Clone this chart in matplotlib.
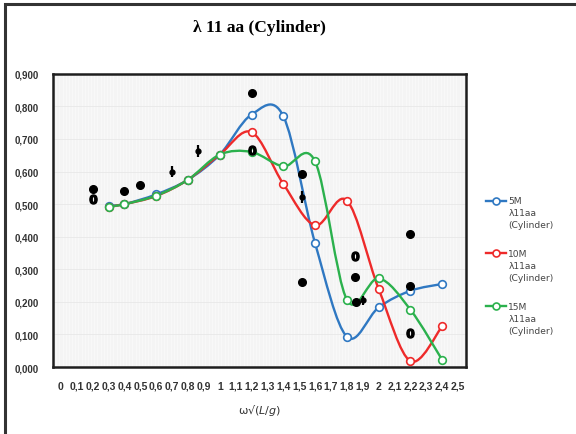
import numpy as np
import matplotlib
matplotlib.use("Agg")
import matplotlib.pyplot as plt
import matplotlib.transforms as mtransforms
from matplotlib.path import Path
from matplotlib.patches import PathPatch, Rectangle
from matplotlib.lines import Line2D
from matplotlib.legend_handler import HandlerLine2D
from matplotlib.ticker import FuncFormatter


# Courbes numeriques (5M, 10M, 15M)
omega = [0.3, 0.4, 0.6, 0.8, 1.0, 1.2, 1.4, 1.6, 1.8, 2.0, 2.2, 2.4]
l_5m = [0.495, 0.500, 0.530, 0.575, 0.652, 0.775, 0.770, 0.380, 0.093, 0.183, 0.234, 0.255]
l_10m = [0.492, 0.500, 0.525, 0.575, 0.652, 0.721, 0.562, 0.435, 0.511, 0.240, 0.018, 0.125]
l_15m = [0.492, 0.500, 0.526, 0.575, 0.652, 0.660, 0.616, 0.631, 0.207, 0.272, 0.176, 0.022]

# Mesures experimentales
pts_x = [0.2, 0.4, 0.5, 1.2, 1.52, 1.52, 1.85, 2.2, 2.2, 1.86]
pts_y = [0.545, 0.541, 0.559, 0.842, 0.591, 0.260, 0.275, 0.408, 0.250, 0.200]
zero_x = [0.2, 1.2, 1.85, 2.2]
zero_y = [0.516, 0.667, 0.340, 0.104]
err_x = [0.7, 0.86, 1.52, 1.9]
err_y = [0.600, 0.664, 0.521, 0.205]
err_dy = [0.018, 0.018, 0.018, 0.014]

x_ticks = [round(i * 0.1, 1) for i in range(26)]
y_ticks = [round(i * 0.1, 1) for i in range(10)]

series = [
    ("5M\nλ11aa\n(Cylinder)", l_5m, "#2f78c2"),
    ("10M\nλ11aa\n(Cylinder)", l_10m, "#ee2a2a"),
    ("15M\nλ11aa\n(Cylinder)", l_15m, "#2bb14d"),
]


# Courbe lissee facon tableur (Bezier / Catmull-Rom)
def courbe_lisse(ax, x, y, couleur):
    p = np.column_stack([x, y])
    verts = [p[0]]
    codes = [Path.MOVETO]
    n = len(p)
    for i in range(n - 1):
        p0 = p[i - 1] if i > 0 else p[i]
        p1 = p[i]
        p2 = p[i + 1]
        p3 = p[i + 2] if i + 2 < n else p[i + 1]
        c1 = p1 + (p2 - p0) / 6
        c2 = p2 - (p3 - p1) / 6
        verts += [c1, c2, p2]
        codes += [Path.CURVE4] * 3
    ax.add_patch(PathPatch(Path(verts, codes), fill=False, edgecolor=couleur,
                           lw=1.7, zorder=3))


# symbole de legende aligne sur la premiere ligne du texte
class LigneHaut(HandlerLine2D):
    def create_artists(self, legend, orig_handle, xdescent, ydescent,
                       width, height, fontsize, trans):
        arts = super().create_artists(legend, orig_handle, xdescent, ydescent,
                                      width, height, fontsize, trans)
        decal = mtransforms.Affine2D().translate(0, fontsize * 1.35)
        for a in arts:
            a.set_transform(decal + trans)
        return arts


fig = plt.figure(figsize=(5.76, 4.35), dpi=100)
ax = fig.add_axes([0.092, 0.154, 0.717, 0.674])
ax.set_facecolor("#f4f4f4")

for label, vals, c in series:
    courbe_lisse(ax, omega, vals, c)
    ax.plot(omega, vals, ls="none", marker="o", ms=5.5, mfc="white",
            mec=c, mew=1.2, zorder=4)

ax.plot(pts_x, pts_y, ls="none", marker="o", ms=5.5, color="black", zorder=5)
ax.plot(zero_x, zero_y, ls="none", marker=r"$\mathbf{0}$", ms=6.5, color="black", zorder=5)
ax.errorbar(err_x, err_y, yerr=err_dy, fmt="o", ms=3.5, color="black",
            elinewidth=1.6, capsize=0, zorder=5)

ax.set_xlim(-0.05, 2.55)
ax.set_ylim(0, 0.9)
ax.set_xticks(x_ticks)
ax.set_yticks(y_ticks)
ax.xaxis.set_major_formatter(FuncFormatter(lambda v, p: f"{v:g}".replace(".", ",")))
ax.yaxis.set_major_formatter(FuncFormatter(lambda v, p: f"{v:.3f}".replace(".", ",")))
ax.tick_params(length=0, labelsize=7, labelcolor="#333333")
ax.tick_params(axis="x", pad=10, labelsize=7.5)
ax.tick_params(axis="y", pad=10)
for t in ax.get_xticklabels() + ax.get_yticklabels():
    t.set_fontfamily("Liberation Sans")
    t.set_fontweight("bold")

ax.set_xticks(np.arange(-0.05, 2.56, 0.02), minor=True)
ax.tick_params(which="minor", length=0)
ax.grid(which="minor", axis="x", color="#fafafa", lw=0.5)
ax.grid(which="major", axis="y", color="#e8e8e8", lw=0.6)
ax.set_axisbelow(True)
for s in ax.spines.values():
    s.set_linewidth(1.8)
    s.set_color("#1e1e1e")

ax.set_title("λ 11 aa (Cylinder)", fontsize=12.5, fontweight="bold",
             family="Liberation Serif", pad=31)
ax.set_xlabel("ω√(" + r"$L/g$" + ")", fontsize=8, color="#333333", labelpad=8)

handles = [Line2D([], [], color=c, lw=1.7, marker="o", ms=5, mfc="white", mec=c, mew=1.2)
           for _, _, c in series]
leg = fig.legend(handles, [s[0] for s in series], loc="upper left",
                 bbox_to_anchor=(0.83, 0.565), frameon=False, fontsize=6.6,
                 handlelength=2.2, labelspacing=2.2, handletextpad=0.2,
                 handler_map={Line2D: LigneHaut()})
for t in leg.get_texts():
    t.set_color("#444444")
    t.set_linespacing(1.4)

# cadre exterieur
fig.patches.append(Rectangle((0.009, -0.02), 1.02, 1.008, transform=fig.transFigure,
                             fill=False, edgecolor="#333333", lw=2.2))

fig.savefig("out.png", dpi=100)
